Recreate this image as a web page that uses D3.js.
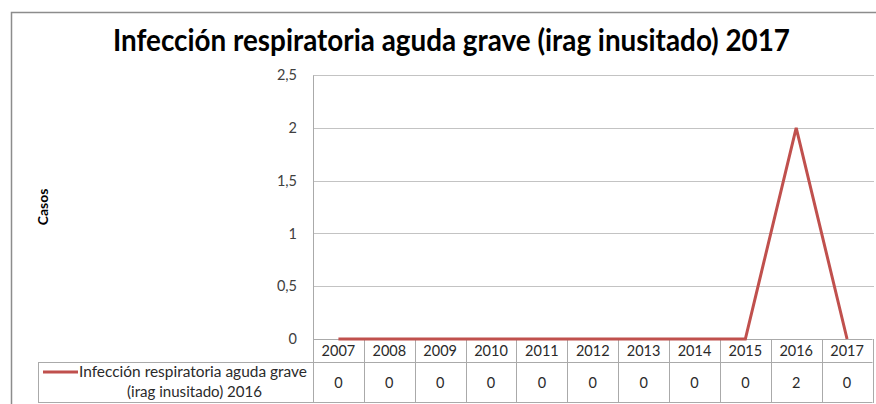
<!DOCTYPE html>
<html>
<head>
<meta charset="utf-8">
<script src="https://cdn.jsdelivr.net/npm/d3@7"></script>
<style>
  html, body { margin: 0; padding: 0; background: #fff; }
  svg { display: block; font-family: Lato, "Open Sans", sans-serif; }
</style>
</head>
<body>
<svg id="chart" width="876" height="404"></svg>
<script>
// Annual cases of severe acute respiratory infection
const years = ["2007", "2008", "2009", "2010", "2011", "2012", "2013", "2014", "2015", "2016", "2017"];
const cases = [0, 0, 0, 0, 0, 0, 0, 0, 0, 2, 0];
const yTicks = [0, 0.5, 1, 1.5, 2, 2.5];
const titleText = "Infección respiratoria aguda grave (irag inusitado) 2017";
const yAxisTitle = "Casos";
const seriesLabel = ["Infección respiratoria aguda grave", "(irag inusitado) 2016"];

const svg = d3.select("#chart");
const lineColor = "#c0504d";
const gridColor = "#c3c3c3";
const tableColor = "#aaaaaa";
const textColor = "#2a2a2a";

const plot = { left: 313, right: 872.5, top: 75, bottom: 339 };
const tableBottom = 403;
const rowSplit = 362;
const legendLeft = 38;

const x = d3.scaleBand().domain(years).range([plot.left, plot.right]);
const y = d3.scaleLinear().domain([0, 2.5]).range([plot.bottom, plot.top]);

// Outer chart frame (left and top edges)
svg.append("path")
  .attr("d", `M11.5,404 V12.5 H876`)
  .attr("fill", "none").attr("stroke", "#8c8c8c").attr("stroke-width", 1.5);

// Title
svg.append("text")
  .attr("x", 113).attr("y", 51)
  .attr("textLength", 677).attr("lengthAdjust", "spacingAndGlyphs")
  .attr("font-size", 31).attr("font-weight", "bold").attr("fill", "#000")
  .text(titleText);

// Horizontal gridlines
svg.append("g").selectAll("line")
  .data(yTicks.filter(t => t > 0))
  .join("line")
  .attr("x1", plot.left).attr("x2", 874)
  .attr("y1", d => Math.round(y(d)) + 0.5).attr("y2", d => Math.round(y(d)) + 0.5)
  .attr("stroke", gridColor).attr("stroke-width", 1);

// Vertical axis
const yAxis = d3.axisLeft(y)
  .tickValues(yTicks)
  .tickSize(0)
  .tickPadding(16)
  .tickFormat(d => String(d).replace(".", ","));
const gy = svg.append("g").attr("transform", `translate(${plot.left},0)`).call(yAxis);
gy.select(".domain").attr("stroke", tableColor);
gy.selectAll("text").attr("font-size", 14.5).attr("fill", "#404040").attr("font-family", "Lato, sans-serif");

// Axis title
svg.append("text")
  .attr("transform", "translate(48,207) rotate(-90)")
  .attr("text-anchor", "middle")
  .attr("font-size", 14).attr("font-weight", "bold").attr("fill", "#000")
  .text(yAxisTitle);

// Data table grid
const tg = svg.append("g").attr("stroke", tableColor).attr("stroke-width", 1).attr("fill", "none");
tg.append("line").attr("x1", plot.left).attr("x2", plot.right).attr("y1", plot.bottom + 0.5).attr("y2", plot.bottom + 0.5);
tg.append("line").attr("x1", legendLeft).attr("x2", plot.right).attr("y1", rowSplit + 0.5).attr("y2", rowSplit + 0.5);
tg.append("line").attr("x1", legendLeft).attr("x2", plot.right).attr("y1", tableBottom - 0.5).attr("y2", tableBottom - 0.5);
tg.append("line").attr("x1", legendLeft + 0.5).attr("x2", legendLeft + 0.5).attr("y1", rowSplit).attr("y2", tableBottom);
tg.selectAll("line.col")
  .data(years.map(d => x(d)).concat([plot.right]))
  .join("line").attr("class", "col")
  .attr("x1", d => Math.round(d) + 0.5).attr("x2", d => Math.round(d) + 0.5)
  .attr("y1", plot.bottom).attr("y2", tableBottom);

// Category labels (header row)
svg.append("g").selectAll("text")
  .data(years)
  .join("text")
  .attr("x", d => x(d) + x.bandwidth() / 2).attr("y", 356)
  .attr("text-anchor", "middle").attr("font-size", 14.5).attr("fill", textColor)
  .text(d => d);

// Values row
svg.append("g").selectAll("text")
  .data(years.map((yr, i) => ({ yr, v: cases[i] })))
  .join("text")
  .attr("x", d => x(d.yr) + x.bandwidth() / 2).attr("y", 388)
  .attr("text-anchor", "middle").attr("font-size", 14.5).attr("fill", textColor)
  .text(d => d.v);

// Series legend key in table
svg.append("line")
  .attr("x1", 43).attr("x2", 78).attr("y1", 372).attr("y2", 372)
  .attr("stroke", lineColor).attr("stroke-width", 3);
svg.append("text")
  .attr("x", 79).attr("y", 377)
  .attr("textLength", 228).attr("lengthAdjust", "spacingAndGlyphs")
  .attr("font-size", 14.5).attr("fill", textColor)
  .text(seriesLabel[0]);
svg.append("text")
  .attr("x", 127).attr("y", 397)
  .attr("textLength", 135).attr("lengthAdjust", "spacingAndGlyphs")
  .attr("font-size", 14.5).attr("fill", textColor)
  .text(seriesLabel[1]);

// Series line
const line = d3.line()
  .x((d, i) => x(years[i]) + x.bandwidth() / 2)
  .y(d => y(d));
svg.append("path")
  .datum(cases)
  .attr("d", line)
  .attr("fill", "none")
  .attr("stroke", lineColor)
  .attr("stroke-width", 3)
  .attr("stroke-linejoin", "miter");
</script>
</body>
</html>
